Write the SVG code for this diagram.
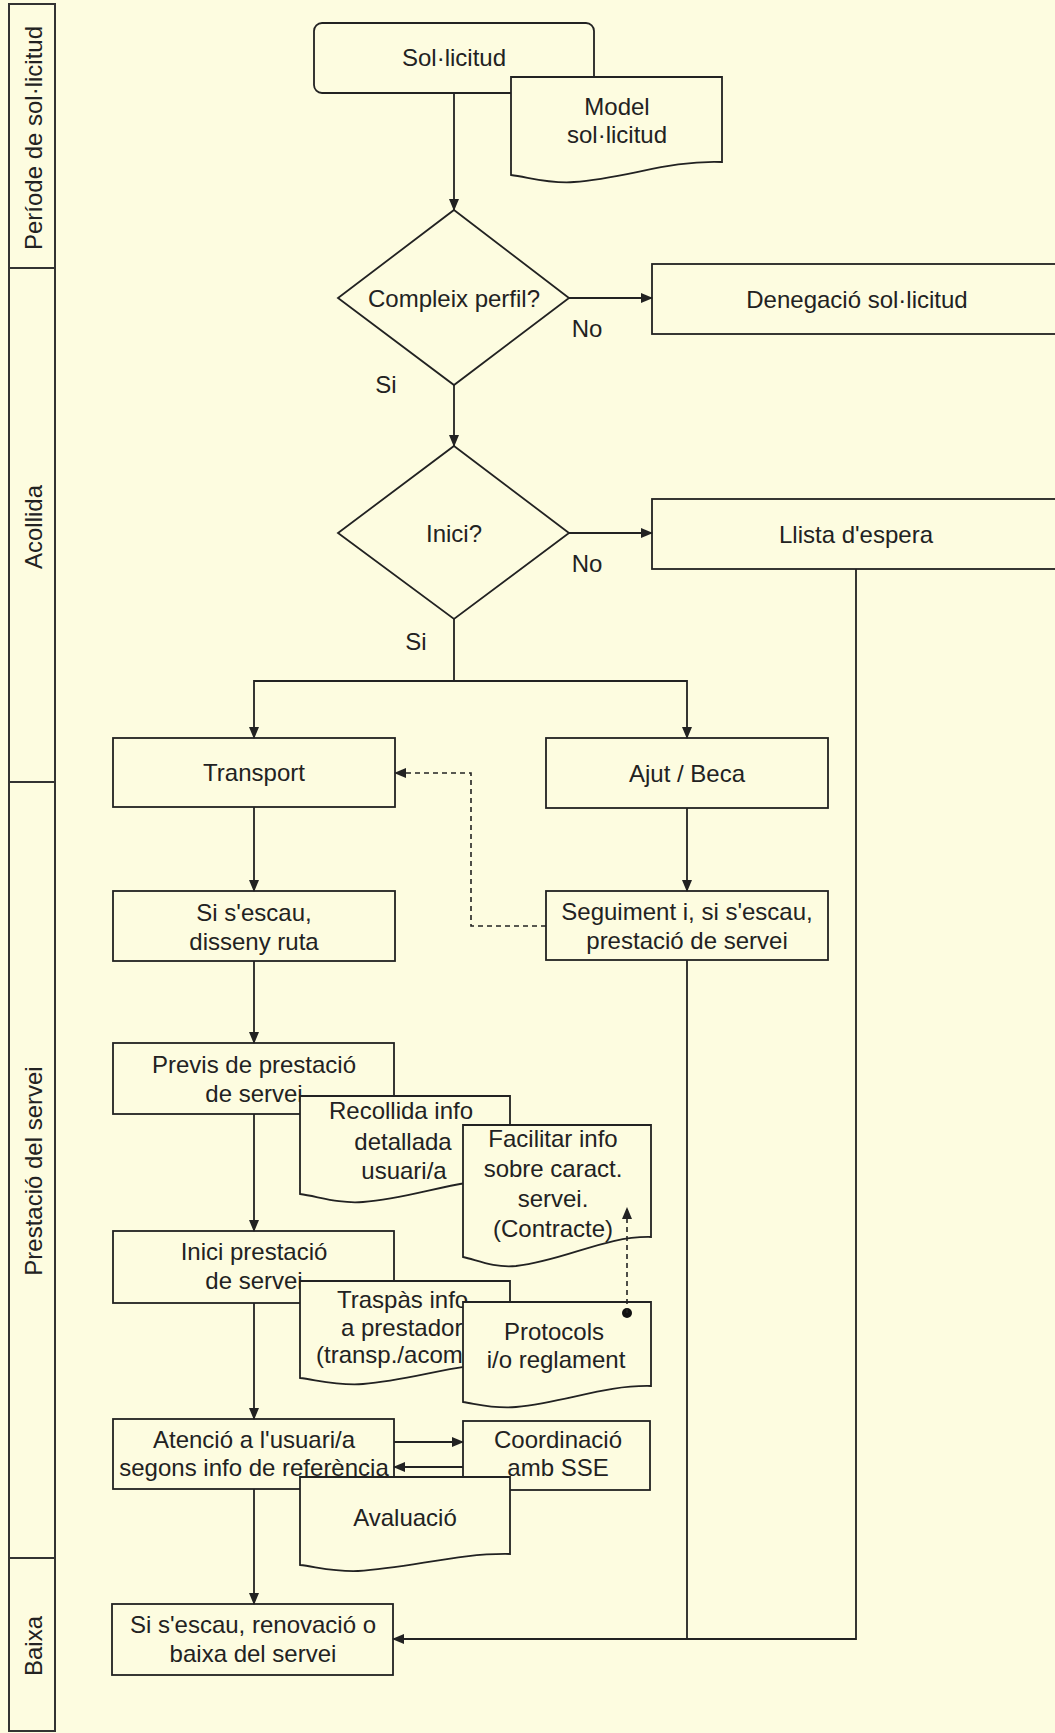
<svg xmlns="http://www.w3.org/2000/svg" width="1055" height="1733" viewBox="0 0 1055 1733">
<defs>
<style>
.bg{fill:#FDFCE0}
.n{fill:#FDFCE0;stroke:#222;stroke-width:1.8}
.t{font-family:"Liberation Sans",Arial,sans-serif;font-size:24px;fill:#222;text-anchor:middle}
.ts{font-family:"Liberation Sans",Arial,sans-serif;font-size:24px;fill:#222;text-anchor:start}
.c{fill:none;stroke:#222;stroke-width:1.8}
.d{fill:none;stroke:#222;stroke-width:1.6;stroke-dasharray:5,4}
.lane{fill:#FDFCE0;stroke:#333;stroke-width:2}
</style>
<marker id="ah" markerUnits="userSpaceOnUse" markerWidth="12" markerHeight="10" refX="11" refY="5" orient="auto">
<path d="M0,0 L12,5 L0,10 Z" fill="#222"/>
</marker>
</defs>
<rect class="bg" x="0" y="0" width="1055" height="1733"/>

<g id="lanes">
<rect class="lane" x="9" y="4" width="46" height="1727"/>
<line x1="9" y1="268" x2="55" y2="268" stroke="#333" stroke-width="2"/>
<line x1="9" y1="782" x2="55" y2="782" stroke="#333" stroke-width="2"/>
<line x1="9" y1="1558" x2="55" y2="1558" stroke="#333" stroke-width="2"/>
<text class="t" transform="translate(42,138) rotate(-90)">Període de sol·licitud</text>
<text class="t" transform="translate(42,527) rotate(-90)">Acollida</text>
<text class="t" transform="translate(42,1171) rotate(-90)">Prestació del servei</text>
<text class="t" transform="translate(42,1646) rotate(-90)">Baixa</text>
</g>

<g id="n-sollicitud">
<rect class="n" x="314" y="23" width="280" height="70" rx="8"/>
<text class="t" x="454" y="66">Sol·licitud</text>
</g>
<g id="n-model">
<path class="n" d="M511,77 H722 V162 C669,160 627,178 574,182 C549,184 528,177 511,175 Z"/>
<text class="t" x="617" y="115">Model</text>
<text class="t" x="617" y="143">sol·licitud</text>
</g>

<g id="n-compleix">
<polygon class="n" points="454,210 569,298 454,385 338,298"/>
<text class="t" x="454" y="307">Compleix perfil?</text>
</g>
<g id="n-denegacio">
<rect class="n" x="652" y="264" width="420" height="70"/>
<text class="t" x="857" y="308">Denegació sol·licitud</text>
</g>

<g id="n-inici">
<polygon class="n" points="454,446 569,533 454,619 338,533"/>
<text class="t" x="454" y="542">Inici?</text>
</g>
<g id="n-llista">
<rect class="n" x="652" y="499" width="420" height="70"/>
<text class="t" x="856" y="543">Llista d'espera</text>
</g>

<g id="n-transport">
<rect class="n" x="113" y="738" width="282" height="69"/>
<text class="t" x="254" y="781">Transport</text>
</g>
<g id="n-ajut">
<rect class="n" x="546" y="738" width="282" height="70"/>
<text class="t" x="687" y="782">Ajut / Beca</text>
</g>

<g id="n-disseny">
<rect class="n" x="113" y="891" width="282" height="70"/>
<text class="t" x="254" y="921">Si s'escau,</text>
<text class="t" x="254" y="950">disseny ruta</text>
</g>
<g id="n-seguiment">
<rect class="n" x="546" y="891" width="282" height="69"/>
<text class="t" x="687" y="920">Seguiment i, si s'escau,</text>
<text class="t" x="687" y="949">prestació de servei</text>
</g>

<g id="n-previs">
<rect class="n" x="113" y="1043" width="281" height="71"/>
<text class="t" x="254" y="1073">Previs de prestació</text>
<text class="t" x="254" y="1102">de servei</text>
</g>
<g id="n-recollida">
<path class="n" d="M300,1096 H510 V1180 C458,1178 416,1198 363,1202 C338,1204 317,1196 300,1194 Z"/>
<text class="t" x="401" y="1119">Recollida info</text>
<text class="t" x="403" y="1150">detallada</text>
<text class="t" x="404" y="1179">usuari/a</text>
</g>
<g id="n-facilitar">
<path class="n" d="M463,1125 H651 V1237 C604,1236 567,1260 516,1266 C493,1268 477,1260 463,1257 Z"/>
<text class="t" x="553" y="1147">Facilitar info</text>
<text class="t" x="553" y="1177">sobre caract.</text>
<text class="t" x="553" y="1207">servei.</text>
<text class="t" x="553" y="1237">(Contracte)</text>
</g>

<g id="n-inici-prestacio">
<rect class="n" x="113" y="1231" width="281" height="72"/>
<text class="t" x="254" y="1260">Inici prestació</text>
<text class="t" x="254" y="1289">de servei</text>
</g>
<g id="n-traspas">
<path class="n" d="M300,1281 H510 V1364 C458,1362 416,1380 363,1384 C338,1386 317,1380 300,1378 Z"/>
<text class="ts" x="337" y="1308">Traspàs info</text>
<text class="ts" x="341" y="1336">a prestador</text>
<text class="ts" x="316" y="1363">(transp./acom</text>
</g>
<g id="n-protocols">
<path class="n" d="M463,1302 H651 V1386 C604,1385 567,1402 516,1407 C493,1409 477,1404 463,1402 Z"/>
<text class="t" x="554" y="1340">Protocols</text>
<text class="t" x="556" y="1368">i/o reglament</text>
</g>

<g id="n-atencio">
<rect class="n" x="113" y="1419" width="281" height="70"/>
<text class="t" x="254" y="1448">Atenció a l'usuari/a</text>
<text class="t" x="254" y="1476">segons info de referència</text>
</g>
<g id="n-coordinacio">
<rect class="n" x="463" y="1421" width="187" height="69"/>
<text class="t" x="558" y="1448">Coordinació</text>
<text class="t" x="558" y="1476">amb SSE</text>
</g>
<g id="n-avaluacio">
<path class="n" d="M300,1477 H510 V1554 C458,1553 410,1568 358,1571 C335,1572 317,1567 300,1565 Z"/>
<text class="t" x="405" y="1526">Avaluació</text>
</g>

<g id="n-renovacio">
<rect class="n" x="112" y="1604" width="281" height="71"/>
<text class="t" x="253" y="1633">Si s'escau, renovació o</text>
<text class="t" x="253" y="1662">baixa del servei</text>
</g>

<g id="labels">
<text class="t" x="587" y="337">No</text>
<text class="t" x="386" y="393">Si</text>
<text class="t" x="587" y="572">No</text>
<text class="t" x="416" y="650">Si</text>
</g>

<g id="connectors">
<path class="c" d="M454,93 V210" marker-end="url(#ah)"/>
<path class="c" d="M569,298 H652" marker-end="url(#ah)"/>
<path class="c" d="M454,385 V446" marker-end="url(#ah)"/>
<path class="c" d="M569,533 H652" marker-end="url(#ah)"/>
<path class="c" d="M454,619 V681 H254 V738" marker-end="url(#ah)"/>
<path class="c" d="M454,681 H687 V738" marker-end="url(#ah)"/>
<path class="c" d="M254,807 V891" marker-end="url(#ah)"/>
<path class="c" d="M687,808 V891" marker-end="url(#ah)"/>
<path class="d" d="M546,926 H471 V773 H395" marker-end="url(#ah)"/>
<path class="c" d="M254,961 V1043" marker-end="url(#ah)"/>
<path class="c" d="M254,1114 V1231" marker-end="url(#ah)"/>
<path class="c" d="M254,1303 V1419" marker-end="url(#ah)"/>
<path class="c" d="M394,1442 H463" marker-end="url(#ah)"/>
<path class="c" d="M463,1467 H394" marker-end="url(#ah)"/>
<path class="c" d="M254,1489 V1604" marker-end="url(#ah)"/>
<path class="c" d="M687,960 V1639"/>
<path class="c" d="M856,569 V1639 H393" marker-end="url(#ah)"/>
<circle cx="627" cy="1313" r="5" fill="#111"/>
<path class="d" d="M627,1313 V1208" marker-end="url(#ah)"/>
</g>
</svg>
